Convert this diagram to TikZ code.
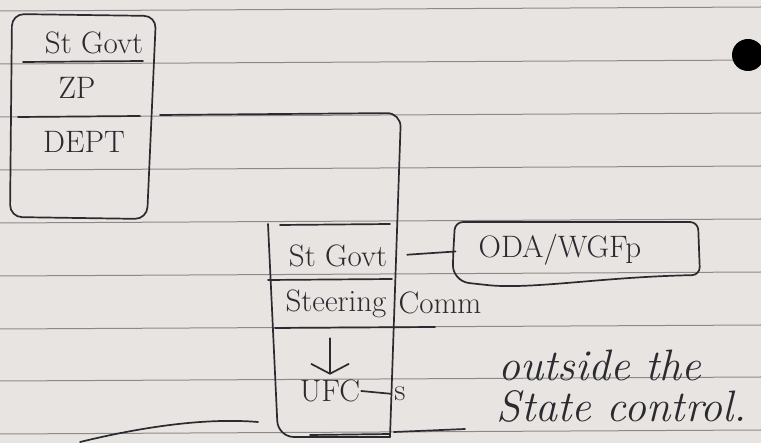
\documentclass[tikz,border=0pt]{standalone}
\usetikzlibrary{arrows.meta}
\definecolor{paper}{HTML}{E8E4E1}
\definecolor{ruling}{HTML}{8C8A88}
\definecolor{ink}{HTML}{2B2A30}
\begin{document}
\begin{tikzpicture}[x=1pt,y=-1pt,
    pen/.style={draw=ink,line width=1.7pt,line cap=round,line join=round},
    hand/.style={text=ink,font=\fontsize{31}{33}\selectfont,inner sep=1pt},
    script/.style={text=ink,font=\fontsize{44}{46}\selectfont\itshape,inner sep=1pt}]
  \useasboundingbox (0,0) rectangle (761,443);
  \fill[paper] (0,0) rectangle (761,443);

  % ruled paper
  \foreach \y in {8,61,114,167,220,273,326,378,431}
    \draw[ruling,line width=1pt] (0,\y+3) -- (761,\y-1);
  \fill[black] (748,55) circle[radius=16];

  % left box
  \draw[pen,rounded corners=12] (12,14) -- (156,16) -- (147,219) -- (10,217) -- cycle;
  \draw[pen] (23,62) -- (143,61);
  \draw[pen] (18,117) -- (140,116);
  \node[hand] (lgov) at (94,43) {St Govt};
  \node[hand] (zp) at (77,88) {ZP};
  \node[hand] (dept) at (84,142) {DEPT};

  % middle box
  \draw[pen,rounded corners=14] (160,115) -- (401,113) -- (390,437);
  \draw[pen,rounded corners=16] (268,224) -- (278,437) -- (390,437);
  \draw[pen] (310,435) -- (390,434);
  \draw[pen] (280,225) -- (390,224);
  \draw[pen] (268,280) -- (392,279);
  \draw[pen] (275,328) -- (435,327);
  \draw[pen] (394,432) -- (465,429);
  \draw[pen] (80,442) .. controls (150,425) and (210,418) .. (258,422);
  \node[hand] (mgov) at (338,256) {St Govt};
  \node[hand] (steer) at (336,304) {Steering};
  \node[hand] (comm) at (440,303) {Comm};
  \node[hand] (ufc) at (330,391) {UFC};
  \node[hand] (fund) at (400,394) {s};
  \draw[pen,-{Straight Barb[length=10pt,width=38pt,line width=1.7pt]},shorten <=19pt,shorten >=4pt]
    (steer.south -| ufc.north) -- (ufc.north);
  \draw[pen,shorten >=2pt] (ufc.east) -- (fund.west);

  % outside box
  \draw[pen,rounded corners=8] (455,222) -- (698,222) -- (700,275)
    .. controls (600,277) and (530,290) .. (478,284)
    .. controls (458,282) and (453,272) .. (453,258) -- cycle;
  \node[hand] (oda) at (560,250) {ODA/WGFp};
  \draw[pen,shorten <=19pt,shorten >=22pt] (mgov.east) -- (oda.west);
  \node[script] (outside) at (600,365) {outside the};
  \node[script] (control) at (622,406) {State control.};
\end{tikzpicture}
\end{document}
